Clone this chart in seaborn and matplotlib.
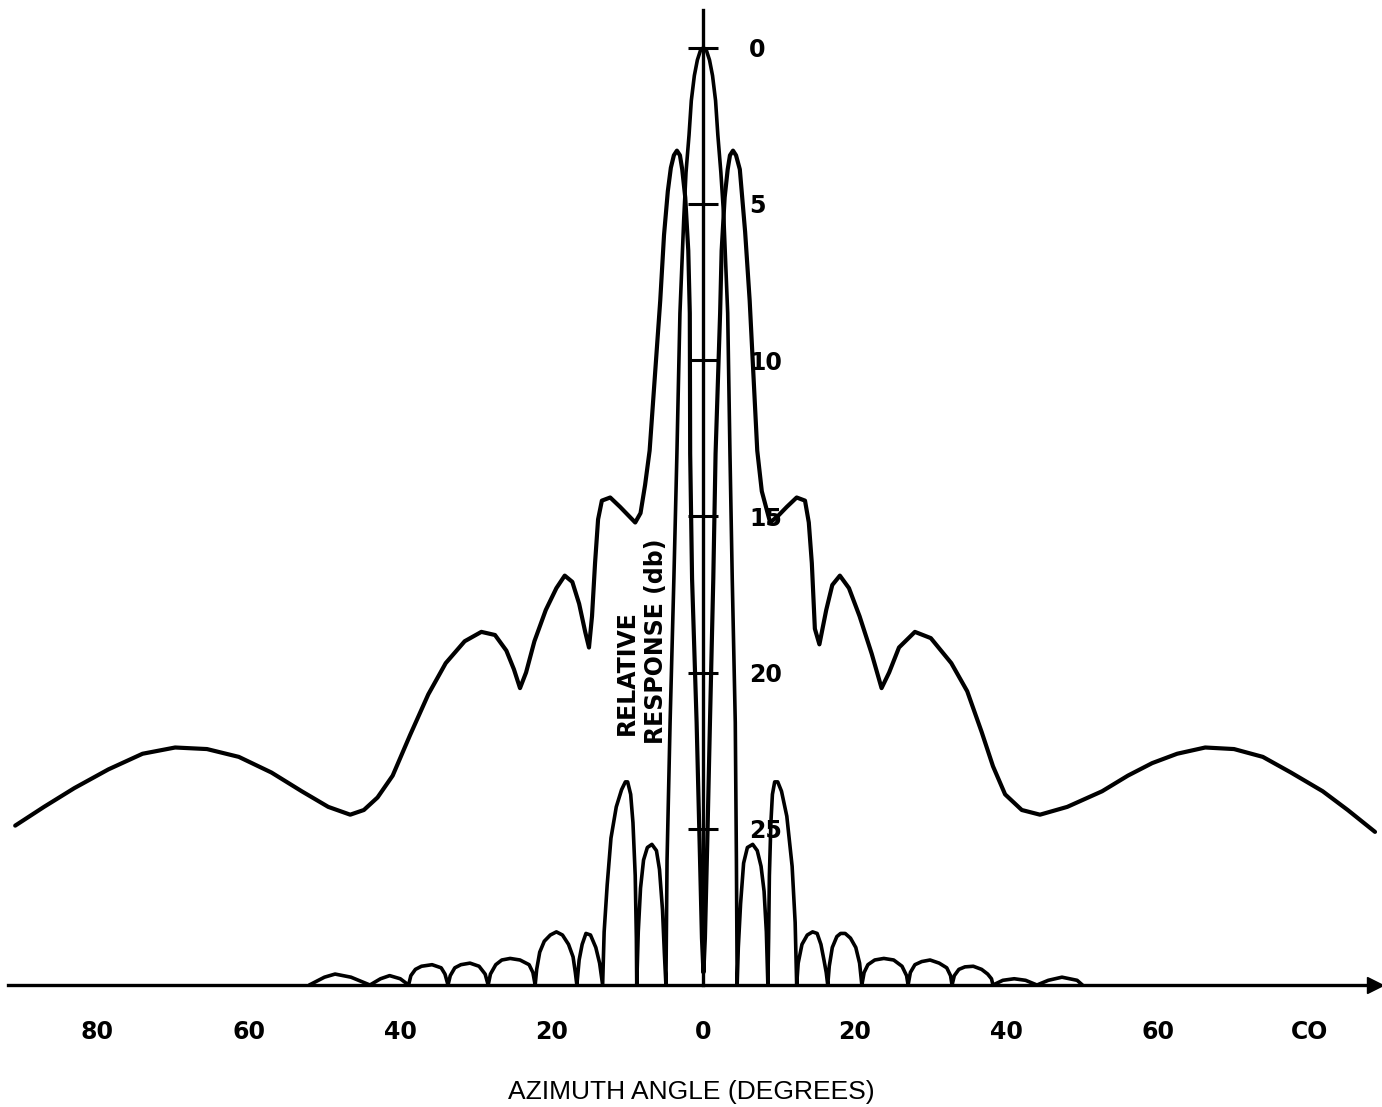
import numpy as np
import pandas as pd
import matplotlib
matplotlib.use("Agg")
import matplotlib.pyplot as plt
import seaborn as sns

# ---- data (angle in degrees, response in dB below peak) ----
# wide pattern (upper curve)
wide_ang = [-90.8, -87.0, -83.0, -78.5, -74.0, -69.7, -65.5, -61.3, -57.0, -53.0,
            -49.5, -46.6, -44.8, -43.0, -41.0, -38.7, -36.3, -34.0, -31.5, -29.3,
            -27.5, -26.0, -25.0, -24.2, -23.4, -22.3, -20.8, -19.4, -18.3, -17.3,
            -16.4, -15.6, -15.1, -14.7, -14.3, -13.9, -13.4, -12.3, -11.0, -9.8,
            -9.0, -8.3, -7.7, -7.1, -6.4, -5.7, -5.2, -4.7, -4.3, -3.9, -3.5,
            -3.1, -2.8, -2.4, -2.0, -1.8, -1.75, -1.5, -0.9, -0.5, -0.2, 0.0,
            0.2, 0.5, 0.86, 1.3, 1.6, 2.2, 2.4, 2.8, 3.2, 3.5, 3.9,
            4.3, 4.8, 5.5, 6.1, 6.6, 7.1, 7.7, 8.8, 9.8, 11.0, 12.3,
            13.4, 13.9, 14.3, 14.7, 15.3, 16.2, 17.0, 18.0, 19.2, 20.6,
            22.2, 23.5, 24.5, 25.8, 27.9, 30.0, 32.7, 34.8, 36.7, 38.2,
            39.8, 42.0, 44.4, 48.0, 52.6, 56.0, 59.2, 62.5, 66.2, 70.0,
            73.8, 77.5, 81.7, 85.0, 88.6]
wide_db = [24.9, 24.3, 23.7, 23.1, 22.6, 22.4, 22.45, 22.7, 23.2, 23.8,
           24.3, 24.55, 24.4, 24.0, 23.3, 22.0, 20.7, 19.7, 19.0, 18.7,
           18.8, 19.3, 19.9, 20.5, 20.0, 19.0, 18.0, 17.3, 16.9, 17.1,
           17.8, 18.7, 19.2, 18.2, 16.5, 15.1, 14.5, 14.4, 14.7, 15.0,
           15.2, 14.9, 14.0, 12.9, 10.5, 8.1, 6.0, 4.6, 3.85, 3.45, 3.3,
           3.45, 3.9, 4.8, 6.5, 8.5, 13.0, 17.0, 21.6, 25.5, 28.5, 29.6,
           28.5, 25.5, 21.6, 17.0, 13.0, 8.5, 6.5, 4.8, 3.9, 3.45, 3.3,
           3.45, 3.9, 5.9, 8.1, 10.5, 12.9, 14.2, 15.2, 15.0, 14.7, 14.4,
           14.5, 15.2, 16.5, 18.6, 19.1, 18.0, 17.2, 16.9, 17.3, 18.2,
           19.4, 20.5, 20.0, 19.2, 18.7, 18.9, 19.7, 20.6, 21.9, 23.0,
           23.9, 24.4, 24.55, 24.3, 23.8, 23.3, 22.9, 22.6, 22.4, 22.45,
           22.7, 23.2, 23.8, 24.4, 25.1]

# narrow pattern (lower curve), clipped at the 30 dB baseline
narrow_ang = [-52.0, -50.0, -48.6, -46.5, -44.0, -42.6, -41.4, -40.0, -38.9,
              -38.6, -38.0, -37.2, -35.8, -34.6, -34.1, -33.7,
              -33.4, -32.8, -32.0, -30.8, -29.6, -28.8, -28.4,
              -28.1, -27.4, -26.6, -25.5, -24.2, -23.0, -22.5, -22.2,
              -22.0, -21.6, -21.0, -20.2, -19.4, -18.6, -17.8, -17.2, -16.9,
              -16.7, -16.4, -16.0, -15.5, -14.9, -14.2, -13.7, -13.3,
              -13.1, -12.7, -12.2, -11.5, -10.8, -10.3, -10.0, -9.6, -9.3, -9.0, -8.85, -8.8,
              -8.6, -8.3, -7.9, -7.4, -6.8, -6.2, -5.8, -5.4, -5.15,
              -4.95, -4.8, -4.4, -3.9, -3.5, -3.1, -2.6, -2.3, -1.9, -1.6, -1.2, -0.8, -0.4, 0.0,
              0.4, 0.8, 1.2, 1.6, 1.9, 2.3, 2.7, 3.2, 3.5, 3.8, 4.2, 4.35, 4.45,
              4.6, 4.9, 5.3, 5.8, 6.5, 7.1, 7.6, 8.0, 8.3, 8.5,
              8.6, 8.7, 8.9, 9.1, 9.4, 9.8, 10.3, 11.0, 11.7, 12.1, 12.3,
              12.5, 13.0, 13.7, 14.4, 15.0, 15.5, 15.9, 16.2, 16.4,
              16.6, 17.0, 17.6, 18.1, 18.7, 19.4, 20.1, 20.6, 20.9,
              21.2, 21.7, 22.6, 23.8, 25.1, 26.2, 26.8, 27.0,
              27.3, 27.9, 28.8, 29.9, 31.1, 32.1, 32.6, 32.8,
              33.1, 33.7, 34.5, 35.6, 36.7, 37.5, 38.0, 38.2,
              39.5, 41.0, 42.5, 44.0, 45.5, 47.3, 49.3, 50.0]
narrow_db = [30.0, 29.75, 29.65, 29.75, 30.0, 29.8, 29.7, 29.8, 30.0,
             29.7, 29.5, 29.4, 29.35, 29.45, 29.65, 30.0,
             29.7, 29.45, 29.35, 29.3, 29.4, 29.65, 30.0,
             29.65, 29.35, 29.2, 29.15, 29.2, 29.35, 29.6, 30.0,
             29.5, 28.95, 28.6, 28.4, 28.3, 28.4, 28.7, 29.1, 29.6,
             30.0, 29.2, 28.7, 28.35, 28.4, 28.8, 29.3, 30.0,
             28.3, 26.8, 25.3, 24.3, 23.75, 23.5, 23.5, 23.9, 24.8, 26.5, 28.5, 30.0,
             28.3, 26.9, 26.0, 25.6, 25.5, 25.7, 26.3, 27.6, 29.0,
             30.0, 26.0, 21.6, 17.0, 13.0, 8.5, 5.5, 4.0, 2.8, 1.7, 0.9, 0.4, 0.1, 0.0,
             0.1, 0.4, 0.9, 1.7, 2.8, 4.0, 5.5, 8.5, 13.0, 17.0, 21.6, 26.0, 30.0,
             28.8, 27.4, 26.1, 25.6, 25.5, 25.7, 26.2, 27.0, 28.3, 30.0,
             28.5, 26.5, 24.8, 23.9, 23.5, 23.5, 23.8, 24.6, 26.2, 28.0, 30.0,
             29.3, 28.7, 28.4, 28.3, 28.35, 28.7, 29.2, 29.6, 30.0,
             29.4, 28.8, 28.45, 28.35, 28.35, 28.5, 28.8, 29.3, 30.0,
             29.6, 29.35, 29.2, 29.15, 29.2, 29.4, 29.7, 30.0,
             29.6, 29.35, 29.25, 29.2, 29.3, 29.45, 29.7, 30.0,
             29.7, 29.5, 29.42, 29.4, 29.5, 29.65, 29.8, 30.0,
             29.85, 29.8, 29.85, 30.0, 29.85, 29.75, 29.85, 30.0]

x_ticks = [-80, -60, -40, -20, 0, 20, 40, 60, 80]
x_tick_labels = ["80", "60", "40", "20", "0", "20", "40", "60", "CO"]
y_ticks = [0, 5, 10, 15, 20, 25]
y_tick_labels = ["0", "5", "10", "15", "20", "25"]

sns.set_theme(style="white")
plt.rcParams["font.family"] = ["DejaVu Sans"]
plt.rcParams["text.color"] = "black"
plt.rcParams["xtick.color"] = "black"
plt.rcParams["ytick.color"] = "black"
plt.rcParams["axes.labelcolor"] = "black"

fig = plt.figure(figsize=(13.82, 11.07), dpi=100)
ax = fig.add_axes([8 / 1382, 122 / 1107, 1367 / 1382, 975 / 1107])

wide = pd.DataFrame({"angle": wide_ang, "db": wide_db})
narrow = pd.DataFrame({"angle": narrow_ang, "db": narrow_db})
sns.lineplot(data=wide, x="angle", y="db", sort=False, estimator=None,
             color="black", lw=3.0, ax=ax, clip_on=False,
             solid_joinstyle="round", solid_capstyle="round")
sns.lineplot(data=narrow, x="angle", y="db", sort=False, estimator=None,
             color="black", lw=2.6, ax=ax, clip_on=False,
             solid_joinstyle="round", solid_capstyle="round")

ax.set_xlim(-91.75, 88.6)
ax.set_ylim(30, -1.2)

# axes drawn through the origin like the hand drawing
for side in ["top", "left"]:
    ax.spines[side].set_visible(False)
ax.spines["right"].set_position(("data", 0))
for side in ["right", "bottom"]:
    ax.spines[side].set_color("black")
    ax.spines[side].set_linewidth(2.4)
ax.yaxis.set_ticks_position("right")

ax.set_xticks(x_ticks)
ax.set_xticklabels(x_tick_labels)
ax.set_yticks(y_ticks)
ax.set_yticklabels(y_tick_labels)
ax.tick_params(axis="x", direction="inout", length=18, width=2.2, colors="black",
               pad=16, labelsize=17)
ax.tick_params(axis="y", direction="inout", length=22, width=2.2, colors="black",
               pad=22, labelsize=17)
for lab in ax.get_xticklabels() + ax.get_yticklabels():
    lab.set_fontweight("bold")

# arrow head at the end of the angle axis
ax.plot(1, 30, ">", color="black", markersize=11, transform=ax.get_yaxis_transform(),
        clip_on=False)

ax.set_xlabel("AZIMUTH ANGLE (DEGREES)", fontsize=19, labelpad=26,
              family="Liberation Sans", color="black")
ax.set_ylabel("")
ax.text(-10.1, 20.0, "RELATIVE", rotation=90, ha="center", va="center",
        fontsize=17, fontweight="bold")
ax.text(-6.2, 19.0, "RESPONSE (db)", rotation=90, ha="center", va="center",
        fontsize=17, fontweight="bold")

fig.savefig("out.png", dpi=100, facecolor="white")
